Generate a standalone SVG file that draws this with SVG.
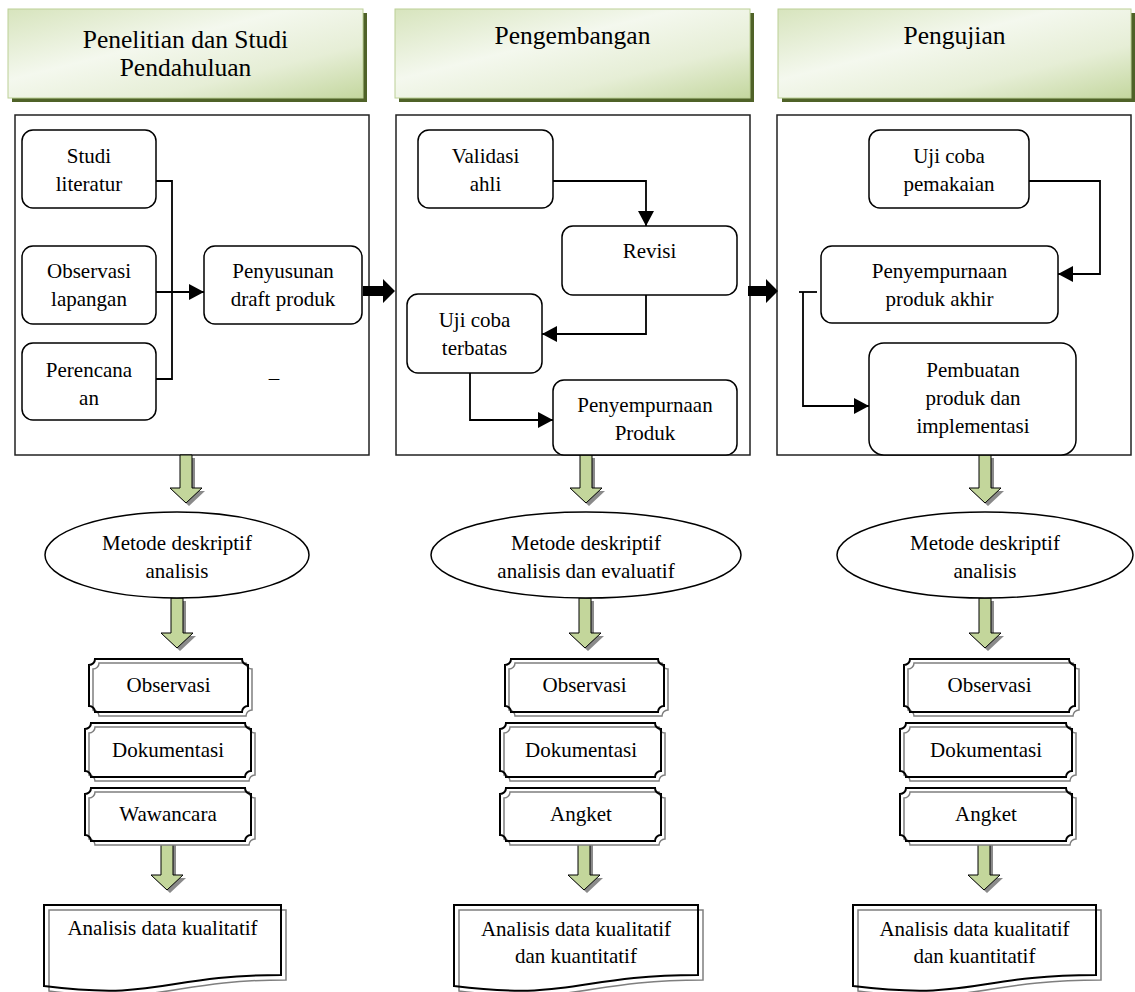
<svg xmlns="http://www.w3.org/2000/svg" xmlns:xlink="http://www.w3.org/1999/xlink" width="1135" height="992" viewBox="0 0 1135 992">
<style>
.t{font-family:"Liberation Serif","Times New Roman",serif;font-size:21px;fill:#000;text-anchor:middle}
.h{font-size:25.5px}
.node{fill:#fff;stroke:#000;stroke-width:1.5}
.panel{fill:none;stroke:#222;stroke-width:1.5}
.conn{fill:none;stroke:#000;stroke-width:1.8}
.block{fill:#000}
.garrow{fill:#c3d69b;stroke:#000;stroke-width:1}
.gshadow{fill:#8a8a8a;stroke:none}
.pl{fill:none;stroke:#000;stroke-width:2}
.plsh{fill:#fff;stroke:#7f7f7f;stroke-width:1.5}
.ell{fill:#fff;stroke:#000;stroke-width:1.5}
.hdr{fill:url(#hg);stroke:#bcd096;stroke-width:1}
.hsh{fill:#4f6228}
</style>
<defs>
<linearGradient id="hg" x1="0" y1="0" x2="1" y2="1">
<stop offset="0" stop-color="#d7e4bd"/>
<stop offset="0.4" stop-color="#f4f8ee"/>
<stop offset="0.7" stop-color="#e6eed6"/>
<stop offset="1" stop-color="#c4d79f"/>
</linearGradient>
<marker id="ah" markerWidth="15" markerHeight="16" refX="15" refY="8" orient="auto" markerUnits="userSpaceOnUse">
<path d="M0,0 L15,8 L0,16 z" fill="#000"/>
</marker>
<path id="p1o" d="M95,659 H242 A6,6 0 0 0 248,665 V706 A6,6 0 0 0 242,712 H95 A6,6 0 0 0 89,706 V665 A6,6 0 0 0 95,659 Z"/>
<path id="p1d" d="M91,723 H245 A6,6 0 0 0 251,729 V771 A6,6 0 0 0 245,777 H91 A6,6 0 0 0 85,771 V729 A6,6 0 0 0 91,723 Z"/>
<path id="p1w" d="M91,788 H245 A6,6 0 0 0 251,794 V835 A6,6 0 0 0 245,841 H91 A6,6 0 0 0 85,835 V794 A6,6 0 0 0 91,788 Z"/>
<path id="p2o" d="M511,659 H658 A6,6 0 0 0 664,665 V706 A6,6 0 0 0 658,712 H511 A6,6 0 0 0 505,706 V665 A6,6 0 0 0 511,659 Z"/>
<path id="p2d" d="M506,723 H655 A6,6 0 0 0 661,729 V771 A6,6 0 0 0 655,777 H506 A6,6 0 0 0 500,771 V729 A6,6 0 0 0 506,723 Z"/>
<path id="p2a" d="M506,788 H655 A6,6 0 0 0 661,794 V835 A6,6 0 0 0 655,841 H506 A6,6 0 0 0 500,835 V794 A6,6 0 0 0 506,788 Z"/>
<path id="p3o" d="M910,659 H1069 A6,6 0 0 0 1075,665 V706 A6,6 0 0 0 1069,712 H910 A6,6 0 0 0 904,706 V665 A6,6 0 0 0 910,659 Z"/>
<path id="p3d" d="M906,723 H1066 A6,6 0 0 0 1072,729 V771 A6,6 0 0 0 1066,777 H906 A6,6 0 0 0 900,771 V729 A6,6 0 0 0 906,723 Z"/>
<path id="p3a" d="M906,788 H1066 A6,6 0 0 0 1072,794 V835 A6,6 0 0 0 1066,841 H906 A6,6 0 0 0 900,835 V794 A6,6 0 0 0 906,788 Z"/>
<path id="d1" d="M44,905 H281 V975 C162.5,975 162.5,1001 44,986 Z"/>
<path id="d2" d="M454,905 H698 V975 C576,975 576,1001 454,986 Z"/>
<path id="d3" d="M853,905 H1096 V975 C974.5,975 974.5,1001 853,986 Z"/>
</defs>
<rect x="0" y="0" width="1135" height="992" fill="#fff"/>

<!-- headers -->
<g id="header1">
<rect class="hsh" x="12" y="13" width="355" height="89"/>
<rect class="hdr" x="8" y="9" width="355" height="89"/>
<text class="t h" x="185.5" y="48">Penelitian dan Studi</text>
<text class="t h" x="185.5" y="76">Pendahuluan</text>
</g>
<g id="header2">
<rect class="hsh" x="399" y="13" width="355" height="89"/>
<rect class="hdr" x="395" y="9" width="355" height="89"/>
<text class="t h" x="572.5" y="44">Pengembangan</text>
</g>
<g id="header3">
<rect class="hsh" x="782" y="13" width="353" height="89"/>
<rect class="hdr" x="778" y="9" width="353" height="89"/>
<text class="t h" x="954.5" y="44">Pengujian</text>
</g>

<!-- panels -->
<g id="panel1"><rect class="panel" x="15" y="115" width="354" height="340"/></g>
<g id="panel2"><rect class="panel" x="396" y="115" width="354" height="340"/></g>
<g id="panel3"><rect class="panel" x="777" y="115" width="354" height="340"/></g>

<!-- connectors -->
<g id="connectors">
<path class="conn" d="M156,181 H172 V379 H156"/>
<path class="conn" d="M156,292 H204" marker-end="url(#ah)"/>
<path class="conn" d="M553,181 H646 V226" marker-end="url(#ah)"/>
<path class="conn" d="M646,295 V334 H542" marker-end="url(#ah)"/>
<path class="conn" d="M470,373 V420 H553" marker-end="url(#ah)"/>
<path class="conn" d="M1029,181 H1100 V274 H1058" marker-end="url(#ah)"/>
<path class="conn" d="M799,292 H817"/>
<path class="conn" d="M803,292 V406 H869" marker-end="url(#ah)"/>
<polygon class="block" points="363,286 383,286 383,279 395,291 383,303 383,296 363,296"/>
<polygon class="block" points="748,286 766,286 766,279 778,291 766,303 766,296 748,296"/>
<!-- green arrows -->
<polygon class="gshadow" transform="translate(3,3)" points="180,455 192,455 192,488 202,488 186,503 170,488 180,488"/>
<polygon class="garrow" points="180,455 192,455 192,488 202,488 186,503 170,488 180,488"/>
<polygon class="gshadow" transform="translate(3,3)" points="171,598 183,598 183,633 193,633 177,648 161,633 171,633"/>
<polygon class="garrow" points="171,598 183,598 183,633 193,633 177,648 161,633 171,633"/>
<polygon class="gshadow" transform="translate(3,3)" points="161,842 173,842 173,875 183,875 167,890 151,875 161,875"/>
<polygon class="garrow" points="161,842 173,842 173,875 183,875 167,890 151,875 161,875"/>
<polygon class="gshadow" transform="translate(3,3)" points="580,455 592,455 592,488 602,488 586,503 570,488 580,488"/>
<polygon class="garrow" points="580,455 592,455 592,488 602,488 586,503 570,488 580,488"/>
<polygon class="gshadow" transform="translate(3,3)" points="579,598 591,598 591,633 601,633 585,648 569,633 579,633"/>
<polygon class="garrow" points="579,598 591,598 591,633 601,633 585,648 569,633 579,633"/>
<polygon class="gshadow" transform="translate(3,3)" points="578,842 590,842 590,875 600,875 584,890 568,875 578,875"/>
<polygon class="garrow" points="578,842 590,842 590,875 600,875 584,890 568,875 578,875"/>
<polygon class="gshadow" transform="translate(3,3)" points="979,455 991,455 991,488 1001,488 985,503 969,488 979,488"/>
<polygon class="garrow" points="979,455 991,455 991,488 1001,488 985,503 969,488 979,488"/>
<polygon class="gshadow" transform="translate(3,3)" points="979,598 991,598 991,633 1001,633 985,648 969,633 979,633"/>
<polygon class="garrow" points="979,598 991,598 991,633 1001,633 985,648 969,633 979,633"/>
<polygon class="gshadow" transform="translate(3,3)" points="978,842 990,842 990,875 1000,875 984,890 968,875 978,875"/>
<polygon class="garrow" points="978,842 990,842 990,875 1000,875 984,890 968,875 978,875"/>
</g>

<!-- panel 1 nodes -->
<g id="n-studi"><rect class="node" x="22" y="130" width="134" height="78" rx="11"/>
<text class="t" x="89" y="163">Studi</text><text class="t" x="89" y="191">literatur</text></g>
<g id="n-observasi-lap"><rect class="node" x="22" y="246" width="134" height="78" rx="11"/>
<text class="t" x="89" y="278">Observasi</text><text class="t" x="89" y="306">lapangan</text></g>
<g id="n-perencanaan"><rect class="node" x="22" y="343" width="134" height="77" rx="11"/>
<text class="t" x="89" y="377">Perencana</text><text class="t" x="89" y="405">an</text></g>
<g id="n-draft"><rect class="node" x="204" y="246" width="158" height="78" rx="11"/>
<text class="t" x="283" y="278">Penyusunan</text><text class="t" x="283" y="306">draft produk</text></g>
<g id="dash"><text class="t" x="274" y="385">–</text></g>

<!-- panel 2 nodes -->
<g id="n-validasi"><rect class="node" x="418" y="130" width="135" height="78" rx="11"/>
<text class="t" x="485.5" y="163">Validasi</text><text class="t" x="485.5" y="191">ahli</text></g>
<g id="n-revisi"><rect class="node" x="562" y="226" width="175" height="69" rx="11"/>
<text class="t" x="649.5" y="258">Revisi</text></g>
<g id="n-ujicoba-terbatas"><rect class="node" x="407" y="294" width="135" height="79" rx="11"/>
<text class="t" x="474.5" y="327">Uji coba</text><text class="t" x="474.5" y="355">terbatas</text></g>
<g id="n-penyempurnaan"><rect class="node" x="553" y="380" width="184" height="75" rx="11"/>
<text class="t" x="645" y="412">Penyempurnaan</text><text class="t" x="645" y="440">Produk</text></g>

<!-- panel 3 nodes -->
<g id="n-ujicoba-pemakaian"><rect class="node" x="869" y="130" width="160" height="78" rx="11"/>
<text class="t" x="949" y="163">Uji coba</text><text class="t" x="949" y="191">pemakaian</text></g>
<g id="n-penyempurnaan-akhir"><rect class="node" x="821" y="246" width="237" height="77" rx="11"/>
<text class="t" x="939.5" y="278">Penyempurnaan</text><text class="t" x="939.5" y="306">produk akhir</text></g>
<g id="n-pembuatan"><rect class="node" x="869" y="343" width="207" height="112" rx="15"/>
<text class="t" x="973" y="377">Pembuatan</text><text class="t" x="973" y="405">produk dan</text><text class="t" x="973" y="433">implementasi</text></g>

<!-- ellipses -->
<g id="e1"><ellipse class="ell" cx="177" cy="555" rx="132" ry="43"/>
<text class="t" x="177" y="550">Metode deskriptif</text><text class="t" x="177" y="578">analisis</text></g>
<g id="e2"><ellipse class="ell" cx="586" cy="555" rx="155" ry="43"/>
<text class="t" x="586" y="550">Metode deskriptif</text><text class="t" x="586" y="578">analisis dan evaluatif</text></g>
<g id="e3"><ellipse class="ell" cx="985" cy="555" rx="148" ry="43"/>
<text class="t" x="985" y="550">Metode deskriptif</text><text class="t" x="985" y="578">analisis</text></g>

<!-- plaques col 1 -->
<g id="c1-observasi"><use xlink:href="#p1o" class="plsh" transform="translate(4,4)"/><use xlink:href="#p1o" class="pl"/><text class="t" x="168.5" y="692">Observasi</text></g>
<g id="c1-dokumentasi"><use xlink:href="#p1d" class="plsh" transform="translate(4,4)"/><use xlink:href="#p1d" class="pl"/><text class="t" x="168" y="757">Dokumentasi</text></g>
<g id="c1-wawancara"><use xlink:href="#p1w" class="plsh" transform="translate(4,4)"/><use xlink:href="#p1w" class="pl"/><text class="t" x="168" y="821">Wawancara</text></g>
<!-- plaques col 2 -->
<g id="c2-observasi"><use xlink:href="#p2o" class="plsh" transform="translate(4,4)"/><use xlink:href="#p2o" class="pl"/><text class="t" x="584.5" y="692">Observasi</text></g>
<g id="c2-dokumentasi"><use xlink:href="#p2d" class="plsh" transform="translate(4,4)"/><use xlink:href="#p2d" class="pl"/><text class="t" x="581" y="757">Dokumentasi</text></g>
<g id="c2-angket"><use xlink:href="#p2a" class="plsh" transform="translate(4,4)"/><use xlink:href="#p2a" class="pl"/><text class="t" x="581" y="821">Angket</text></g>
<!-- plaques col 3 -->
<g id="c3-observasi"><use xlink:href="#p3o" class="plsh" transform="translate(4,4)"/><use xlink:href="#p3o" class="pl"/><text class="t" x="989.5" y="692">Observasi</text></g>
<g id="c3-dokumentasi"><use xlink:href="#p3d" class="plsh" transform="translate(4,4)"/><use xlink:href="#p3d" class="pl"/><text class="t" x="986" y="757">Dokumentasi</text></g>
<g id="c3-angket"><use xlink:href="#p3a" class="plsh" transform="translate(4,4)"/><use xlink:href="#p3a" class="pl"/><text class="t" x="986" y="821">Angket</text></g>

<!-- documents -->
<g id="doc1"><use xlink:href="#d1" class="plsh" transform="translate(5,5)"/><use xlink:href="#d1" class="pl"/><text class="t" x="162.5" y="935">Analisis data kualitatif</text></g>
<g id="doc2"><use xlink:href="#d2" class="plsh" transform="translate(5,5)"/><use xlink:href="#d2" class="pl"/><text class="t" x="576" y="936">Analisis data kualitatif</text><text class="t" x="576" y="963">dan kuantitatif</text></g>
<g id="doc3"><use xlink:href="#d3" class="plsh" transform="translate(5,5)"/><use xlink:href="#d3" class="pl"/><text class="t" x="974.5" y="936">Analisis data kualitatif</text><text class="t" x="974.5" y="963">dan kuantitatif</text></g>
</svg>
